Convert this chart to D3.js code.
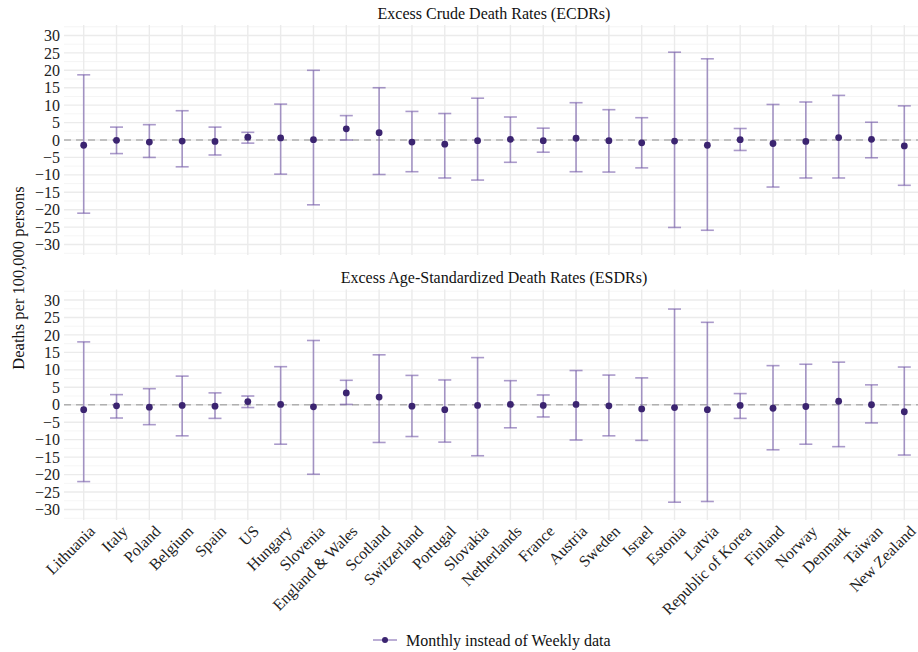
<!DOCTYPE html>
<html><head><meta charset="utf-8">
<script src="https://cdn.jsdelivr.net/npm/d3@7"></script>
<style>body{margin:0;background:#fff}svg{display:block}svg text{font-family:"Liberation Serif","DejaVu Serif",serif !important}</style>
</head><body><div id="chart"></div>
<script>
const countries = ["Lithuania","Italy","Poland","Belgium","Spain","US","Hungary","Slovenia","England & Wales","Scotland","Switzerland","Portugal","Slovakia","Netherlands","France","Austria","Sweden","Israel","Estonia","Latvia","Republic of Korea","Finland","Norway","Denmark","Taiwan","New Zealand"];
const panelTitles = ["Excess Crude Death Rates (ECDRs)","Excess Age-Standardized Death Rates (ESDRs)"];
const ecdrEst   = [-1.5,-0.1,-0.6,-0.3,-0.4,0.8,0.6,0.1,3.2,2.1,-0.6,-1.2,-0.2,0.2,-0.2,0.5,-0.2,-0.8,-0.3,-1.5,0.1,-1.0,-0.4,0.7,0.2,-1.7];
const ecdrLow   = [-21.0,-3.9,-5.0,-7.7,-4.3,-0.9,-9.8,-18.6,0.0,-9.9,-9.1,-10.9,-11.5,-6.4,-3.5,-9.1,-9.2,-8.0,-25.1,-25.9,-3.0,-13.5,-10.9,-10.9,-5.1,-13.0];
const ecdrHigh  = [18.7,3.7,4.4,8.4,3.7,2.2,10.3,20.0,7.0,15.0,8.2,7.6,12.0,6.6,3.4,10.7,8.7,6.4,25.2,23.3,3.3,10.2,10.9,12.8,5.1,9.8];
const esdrEst   = [-1.4,-0.3,-0.7,-0.2,-0.4,0.9,0.1,-0.6,3.4,2.2,-0.4,-1.4,-0.2,0.1,-0.2,0.1,-0.3,-1.2,-0.8,-1.4,-0.2,-1.0,-0.5,1.0,0.0,-2.0];
const esdrLow   = [-22.0,-3.8,-5.7,-8.9,-3.9,-0.8,-11.3,-19.9,0.1,-10.8,-9.1,-10.7,-14.6,-6.6,-3.5,-10.1,-8.9,-10.2,-27.9,-27.7,-3.9,-12.9,-11.3,-12.0,-5.2,-14.4];
const esdrHigh  = [18.0,2.9,4.6,8.2,3.4,2.5,10.9,18.4,7.0,14.3,8.4,7.1,13.5,6.9,2.8,9.8,8.5,7.7,27.4,23.6,3.2,11.2,11.6,12.2,5.7,10.8];
const yTicks = [30,25,20,15,10,5,0,-5,-10,-15,-20,-25,-30];
const legendLabel = "Monthly instead of Weekly data";
const yTitle = "Deaths per 100,000 persons";

const W = 918, H = 652;
const FONT = '"Liberation Serif", serif';
const svg = d3.select("#chart").append("svg").attr("width", W).attr("height", H);
const left = 64, right = 924;
const x = d3.scalePoint().domain(countries).range([left, right]).padding(0.6);
const panels = [
  {title: panelTitles[0], est: ecdrEst, lo: ecdrLow, hi: ecdrHigh, top: 25, bottom: 255, titleY: 19},
  {title: panelTitles[1], est: esdrEst, lo: esdrLow, hi: esdrHigh, top: 289.5, bottom: 520, titleY: 283}
];
const barColor = "rgba(118,92,170,0.62)";
const ptColor = "#3b2470";
const minor = d3.range(-32.5, 33, 5);

panels.forEach(p => {
  const y = d3.scaleLinear().domain([-33, 33]).range([p.bottom, p.top]);
  const g = svg.append("g");
  g.selectAll(".mn").data(minor).join("line")
    .attr("x1", left).attr("x2", right).attr("y1", d => y(d)).attr("y2", d => y(d))
    .attr("stroke", "#f3f3f3").attr("stroke-width", 0.8);
  g.selectAll(".mj").data(yTicks).join("line")
    .attr("x1", left).attr("x2", right).attr("y1", d => y(d)).attr("y2", d => y(d))
    .attr("stroke", "#ebebeb").attr("stroke-width", 1.4);
  g.selectAll(".vg").data(countries).join("line")
    .attr("x1", d => x(d)).attr("x2", d => x(d)).attr("y1", p.top).attr("y2", p.bottom)
    .attr("stroke", "#ebebeb").attr("stroke-width", 1.4);
  const ax = d3.axisLeft(y).tickValues(yTicks).tickSize(0).tickPadding(4);
  const axg = g.append("g").attr("transform", `translate(${left},0)`).call(ax)
    .attr("font-family", FONT).attr("font-size", 16);
  axg.select(".domain").remove();
  axg.selectAll("text").attr("fill", "#222");
  g.append("line").attr("x1", left).attr("x2", right).attr("y1", y(0)).attr("y2", y(0))
    .attr("stroke", "#b0b0b0").attr("stroke-width", 1.4).attr("stroke-dasharray", "7,5");
  svg.append("text").attr("x", (left + right) / 2).attr("y", p.titleY).attr("text-anchor", "middle")
    .attr("font-family", FONT).attr("font-size", 16).attr("fill", "#111").text(p.title);
  const cap = 6.5;
  const eb = g.selectAll(".eb").data(countries).join("g");
  eb.append("line").attr("x1", d => x(d)).attr("x2", d => x(d))
    .attr("y1", (d, i) => y(p.lo[i])).attr("y2", (d, i) => y(p.hi[i]))
    .attr("stroke", barColor).attr("stroke-width", 1.6);
  eb.append("line").attr("x1", d => x(d) - cap).attr("x2", d => x(d) + cap)
    .attr("y1", (d, i) => y(p.lo[i])).attr("y2", (d, i) => y(p.lo[i]))
    .attr("stroke", barColor).attr("stroke-width", 1.6);
  eb.append("line").attr("x1", d => x(d) - cap).attr("x2", d => x(d) + cap)
    .attr("y1", (d, i) => y(p.hi[i])).attr("y2", (d, i) => y(p.hi[i]))
    .attr("stroke", barColor).attr("stroke-width", 1.6);
  eb.append("circle").attr("cx", d => x(d)).attr("cy", (d, i) => y(p.est[i])).attr("r", 3.4)
    .attr("fill", ptColor);
});

svg.append("g").selectAll("text").data(countries).join("text")
  .attr("transform", d => `translate(${x(d) + 6},${526}) rotate(-45)`)
  .attr("text-anchor", "end").attr("dy", "0.55em")
  .attr("font-family", FONT).attr("font-size", 16).attr("fill", "#222").text(d => d);

svg.append("text").attr("transform", `translate(24,278) rotate(-90)`)
  .attr("text-anchor", "middle").attr("font-family", FONT).attr("font-size", 16.5).attr("fill", "#111").text(yTitle);

const lg = svg.append("g").attr("transform", "translate(385,640)");
lg.append("line").attr("x1", -12).attr("x2", 12).attr("y1", 0).attr("y2", 0).attr("stroke", barColor).attr("stroke-width", 1.6);
lg.append("circle").attr("r", 3).attr("fill", ptColor);
lg.append("text").attr("x", 21).attr("y", 0).attr("dy", "0.35em").attr("font-family", FONT).attr("font-size", 16).attr("fill", "#111").text(legendLabel);
</script></body></html>
